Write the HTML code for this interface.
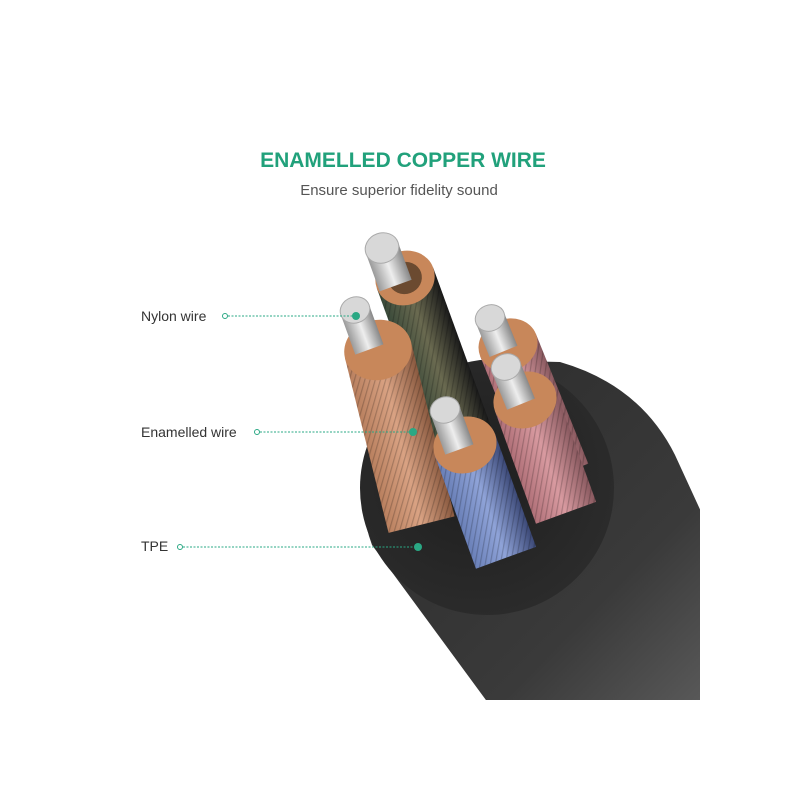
<!DOCTYPE html>
<html><head><meta charset="utf-8"><style>
body{margin:0;background:#fff;width:800px;height:800px;overflow:hidden}
svg{display:block}
text{font-family:"Liberation Sans",sans-serif}
</style></head><body>
<svg width="800" height="800" viewBox="0 0 800 800">
<defs>
<linearGradient id="body" x1="0" y1="0" x2="1" y2="1">
<stop offset="0" stop-color="#2a2a2a"/><stop offset="0.6" stop-color="#3a3a3a"/><stop offset="1" stop-color="#6a6a6a"/></linearGradient>
<radialGradient id="face" cx="0.45" cy="0.45" r="0.6"><stop offset="0" stop-color="#1e1e1e"/><stop offset="1" stop-color="#2c2c2c"/></radialGradient>
<linearGradient id="cu" x1="0" x2="1"><stop offset="0" stop-color="#b9805f"/><stop offset="0.5" stop-color="#d9a283"/><stop offset="1" stop-color="#8a5a40"/></linearGradient>
<linearGradient id="bl" x1="0" x2="1"><stop offset="0" stop-color="#6a80b8"/><stop offset="0.5" stop-color="#8fa3d8"/><stop offset="1" stop-color="#3d4a78"/></linearGradient>
<linearGradient id="pk" x1="0" x2="1"><stop offset="0" stop-color="#b07078"/><stop offset="0.5" stop-color="#d89aa0"/><stop offset="1" stop-color="#8a5a60"/></linearGradient>
<linearGradient id="gr" x1="0" x2="1"><stop offset="0" stop-color="#3a4a3a"/><stop offset="0.5" stop-color="#6a6a50"/><stop offset="1" stop-color="#1a1a1a"/></linearGradient>
<linearGradient id="ag" x1="0" x2="1"><stop offset="0" stop-color="#9a9a9a"/><stop offset="0.5" stop-color="#eeeeee"/><stop offset="1" stop-color="#888"/></linearGradient>
<pattern id="str" width="5" height="5" patternUnits="userSpaceOnUse" patternTransform="rotate(30)"><rect width="1.2" height="5" fill="rgba(0,0,0,0.2)"/></pattern>
<clipPath id="cl"><rect x="0" y="0" width="700" height="700"/></clipPath>
</defs>
<text x="403" y="167" text-anchor="middle" font-size="21" font-weight="bold" fill="#21a17b">ENAMELLED COPPER WIRE</text>
<text x="399" y="195" text-anchor="middle" font-size="15" fill="#555">Ensure superior fidelity sound</text>

<g clip-path="url(#cl)">
<path d="M560,362 Q640,385 675,455 L760,640 L760,760 L530,760 L372,545 Q355,500 372,440 Q410,370 480,360 Z" fill="url(#body)"/>
<circle cx="487" cy="488" r="127" fill="url(#face)"/>
</g>

<g transform="translate(405,278) rotate(-20)">
<rect x="-30" y="0" width="60" height="180" fill="url(#gr)"/><rect x="-30" y="0" width="60" height="180" fill="url(#str)"/>
<ellipse cx="0" cy="0" rx="30" ry="27" fill="#c8875a"/><ellipse cx="0" cy="0" rx="17" ry="16" fill="#6b4a30"/>
</g>
<g transform="translate(382,248) rotate(-20)"><rect x="-17" y="0" width="34" height="40" fill="url(#ag)"/><ellipse cx="0" cy="0" rx="17" ry="15" fill="#d8d8d8" stroke="#aaa"/></g>

<g transform="translate(508,345) rotate(-22)">
<rect x="-30" y="0" width="60" height="140" fill="url(#pk)"/><rect x="-30" y="0" width="60" height="140" fill="url(#str)"/>
<ellipse cx="0" cy="0" rx="30" ry="26" fill="#c8875a"/>
</g>
<g transform="translate(490,318) rotate(-22)"><rect x="-15" y="0" width="30" height="36" fill="url(#ag)"/><ellipse cx="0" cy="0" rx="15" ry="13" fill="#d8d8d8" stroke="#aaa"/></g>

<g transform="translate(378,350) rotate(-14)">
<rect x="-34" y="0" width="68" height="180" fill="url(#cu)"/><rect x="-34" y="0" width="68" height="180" fill="url(#str)"/>
<ellipse cx="0" cy="0" rx="34" ry="30" fill="#c8875a"/>
</g>
<g transform="translate(355,310) rotate(-20)"><rect x="-15" y="0" width="30" height="42" fill="url(#ag)"/><ellipse cx="0" cy="0" rx="15" ry="13" fill="#d8d8d8" stroke="#aaa"/></g>

<g transform="translate(525,400) rotate(-20)">
<rect x="-32" y="0" width="64" height="120" fill="url(#pk)"/><rect x="-32" y="0" width="64" height="120" fill="url(#str)"/>
<ellipse cx="0" cy="0" rx="32" ry="28" fill="#c8875a"/>
</g>
<g transform="translate(506,367) rotate(-22)"><rect x="-15" y="0" width="30" height="40" fill="url(#ag)"/><ellipse cx="0" cy="0" rx="15" ry="13" fill="#d8d8d8" stroke="#aaa"/></g>

<g transform="translate(465,445) rotate(-20)">
<rect x="-32" y="0" width="64" height="120" fill="url(#bl)"/><rect x="-32" y="0" width="64" height="120" fill="url(#str)"/>
<ellipse cx="0" cy="0" rx="32" ry="28" fill="#c8875a"/>
</g>
<g transform="translate(445,410) rotate(-20)"><rect x="-15" y="0" width="30" height="42" fill="url(#ag)"/><ellipse cx="0" cy="0" rx="15" ry="13" fill="#d8d8d8" stroke="#aaa"/></g>

<g font-size="14" fill="#333">
<text x="141" y="321">Nylon wire</text>
<text x="141" y="437">Enamelled wire</text>
<text x="141" y="551">TPE</text>
</g>
<g stroke="#2aa884" stroke-width="1" fill="none">
<line x1="228" y1="316" x2="352" y2="316" stroke-dasharray="2,1.5"/>
<line x1="260" y1="432" x2="410" y2="432" stroke-dasharray="2,1.5"/>
<line x1="183" y1="547" x2="415" y2="547" stroke-dasharray="2,1.5"/>
<circle cx="225" cy="316" r="2.5" fill="#fff"/><circle cx="257" cy="432" r="2.5" fill="#fff"/><circle cx="180" cy="547" r="2.5" fill="#fff"/>
</g>
<g fill="#2aa884"><circle cx="356" cy="316" r="4"/><circle cx="413" cy="432" r="4"/><circle cx="418" cy="547" r="4"/></g>
</svg>
</body></html>
